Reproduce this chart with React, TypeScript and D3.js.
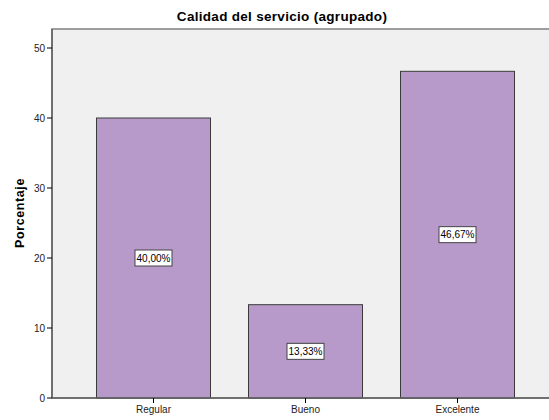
import React from "react";
import * as d3 from "d3";

const categories = ["Regular", "Bueno", "Excelente"];
const values = [40.0, 13.33, 46.67];
const valueLabels = ["40,00%", "13,33%", "46,67%"];
const yTicks = [0, 10, 20, 30, 40, 50];
const title = "Calidad del servicio (agrupado)";
const yTitle = "Porcentaje";

const W = 549;
const H = 420;
const plotLeft = 52;
const plotRight = 560;
const plotTop = 29;
const plotBottom = 398;

export default function App() {
  const y = d3.scaleLinear().domain([0, 50]).range([plotBottom, 48]);
  const x = d3
    .scaleBand<string>()
    .domain(categories)
    .range([77.5, 533.5])
    .paddingInner(0.25)
    .paddingOuter(0.125);
  const font = "'Liberation Sans', Arial, sans-serif";
  return (
    <svg
      width={W}
      height={H}
      style={{ position: "absolute", left: 0, top: 0, background: "#fff" }}
      fontFamily={font}
    >
      <rect x={0} y={0} width={W} height={H} fill="#ffffff" />
      <text x={282} y={21} textAnchor="middle" fontSize={13.5} fontWeight="bold" fill="#000" letterSpacing={0.3}>
        {title}
      </text>
      <rect
        x={plotLeft}
        y={plotTop}
        width={plotRight - plotLeft}
        height={plotBottom - plotTop}
        fill="#f0f0f0"
        stroke="#808080"
        strokeWidth={1.5}
      />
      {categories.map((c, i) => (
        <rect
          key={c}
          x={x(c)}
          y={y(values[i])}
          width={x.bandwidth()}
          height={y(0) - y(values[i])}
          fill="#b89aca"
          stroke="#3a3a3a"
          strokeWidth={1}
        />
      ))}
      <line x1={plotLeft} x2={plotLeft} y1={plotTop} y2={plotBottom} stroke="#606060" strokeWidth={1.5} />
      <line x1={plotLeft} x2={plotRight} y1={plotBottom} y2={plotBottom} stroke="#606060" strokeWidth={1.5} />
      {yTicks.map((t) => (
        <g key={t}>
          <line x1={plotLeft - 5} x2={plotLeft} y1={y(t)} y2={y(t)} stroke="#000" strokeWidth={1} />
          <text x={plotLeft - 7} y={y(t) + 3.5} textAnchor="end" fontSize={10} fill="#222">
            {t}
          </text>
        </g>
      ))}
      {categories.map((c) => {
        const cx = (x(c) as number) + x.bandwidth() / 2;
        return (
          <g key={c}>
            <line x1={cx} x2={cx} y1={plotBottom} y2={plotBottom + 5} stroke="#000" strokeWidth={1} />
            <text x={cx} y={plotBottom + 15} textAnchor="middle" fontSize={10} fill="#222">
              {c}
            </text>
          </g>
        );
      })}
      {categories.map((c, i) => {
        const cx = (x(c) as number) + x.bandwidth() / 2;
        const cy = y(values[i] / 2);
        return (
          <g key={c + "lbl"}>
            <rect x={cx - 18.5} y={cy - 8} width={37} height={16} fill="#fff" stroke="#444" strokeWidth={1} />
            <text x={cx} y={cy + 3.5} textAnchor="middle" fontSize={10} fill="#000">
              {valueLabels[i]}
            </text>
          </g>
        );
      })}
      <text
        transform={`translate(24,${213}) rotate(-90)`}
        textAnchor="middle"
        fontSize={12.5}
        fontWeight="bold"
        fill="#000"
        letterSpacing={0.6}
      >
        {yTitle}
      </text>
    </svg>
  );
}
